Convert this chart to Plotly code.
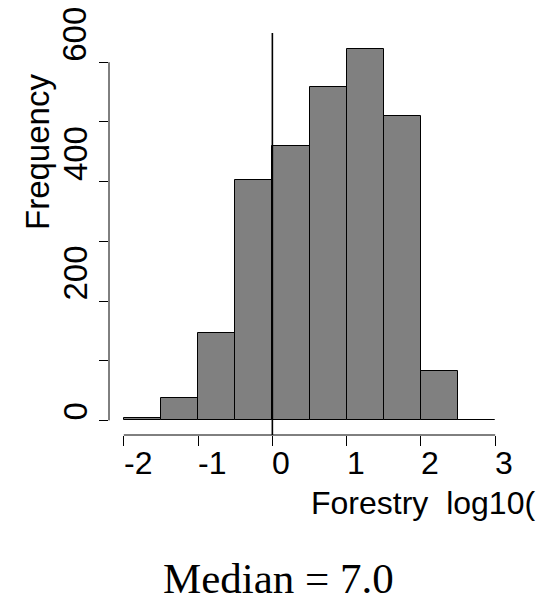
import plotly.graph_objects as go

# ---- data ----
bin_edges = [-2.0, -1.5, -1.0, -0.5, 0.0, 0.5, 1.0, 1.5, 2.0, 2.5, 3.0]
counts = [4, 37, 147, 402, 460, 558, 623, 510, 82, 1]
x_ticks = [-2, -1, 0, 1, 2, 3]
x_tick_labels = ["-2", "-1", "0", "1", "2", "3"]
y_ticks = [0, 100, 200, 300, 400, 500, 600]
y_label_vals = [0, 200, 400, 600]
y_label_text = ["0", "200", "400", "600"]
x_title = "Forestry  log10("
y_title = "Frequency"
caption = "Median = 7.0"

centers = [(a + b) / 2 for a, b in zip(bin_edges[:-1], bin_edges[1:])]
widths = [b - a for a, b in zip(bin_edges[:-1], bin_edges[1:])]

W, H = 542, 603
L, R, T, B = 109, 32, 33, 168
PW, PH = W - L - R, H - T - B


def px(x):
    return (x - L) / PW


def py(y):
    return (H - B - y) / PH


SANS = "Liberation Sans, Arial, sans-serif"

fig = go.Figure()
fig.add_trace(go.Bar(
    x=centers, y=counts, width=widths,
    marker=dict(color="#808080", line=dict(color="black", width=1)),
    showlegend=False, hoverinfo="skip",
))

annotations = []
for v, t in zip(x_ticks, x_tick_labels):
    annotations.append(dict(
        x=v, xref="x", y=py(463), yref="paper", text=t, showarrow=False,
        xanchor="left", yanchor="middle", xshift=-2,
        font=dict(family=SANS, size=32, color="black"),
    ))
for v, t in zip(y_label_vals, y_label_text):
    annotations.append(dict(
        x=px(75), xref="paper", y=v, yref="y", text=t, showarrow=False,
        xanchor="center", yanchor="bottom", textangle=-90, yshift=-2,
        font=dict(family=SANS, size=33, color="black"),
    ))
annotations.append(dict(
    x=px(37), xref="paper", y=py(232), yref="paper", text=y_title,
    showarrow=False, xanchor="center", yanchor="bottom", textangle=-90,
    font=dict(family=SANS, size=33, color="black"),
))
annotations.append(dict(
    x=px(309), xref="paper", y=py(503), yref="paper", text=x_title,
    showarrow=False, xanchor="left", yanchor="middle",
    font=dict(family=SANS, size=32, color="black"),
))
annotations.append(dict(
    x=px(278), xref="paper", y=py(578), yref="paper", text=caption,
    showarrow=False, xanchor="center", yanchor="middle",
    font=dict(family="Liberation Serif, DejaVu Serif, serif", size=43, color="black"),
))

shapes = [
    # y axis line (0..600)
    dict(type="line", xref="paper", x0=0, x1=0, yref="y", y0=0, y1=600,
         line=dict(color="black", width=1)),
    # x axis line (-2..3)
    dict(type="line", xref="x", x0=-2, x1=3, yref="paper", y0=0, y1=0,
         line=dict(color="black", width=1)),
    # vertical reference line at 0
    dict(type="line", xref="x", x0=0, x1=0, yref="paper", y0=0, y1=1,
         line=dict(color="black", width=1.6)),
]

fig.update_layout(
    width=W, height=H,
    margin=dict(l=L, r=R, t=T, b=B, pad=0),
    paper_bgcolor="white", plot_bgcolor="white",
    bargap=0,
    xaxis=dict(range=[-2.2, 3.2], tickvals=x_ticks, showticklabels=False,
               ticks="outside", ticklen=10, tickcolor="black", tickwidth=1,
               showgrid=False, zeroline=False, showline=False, fixedrange=True),
    yaxis=dict(range=[-24.5, 649], tickvals=y_ticks, showticklabels=False,
               ticks="outside", ticklen=9, tickcolor="black", tickwidth=1,
               showgrid=False, zeroline=False, showline=False, fixedrange=True),
    annotations=annotations,
    shapes=shapes,
)

fig.write_html(
    "out.html",
    config={"displayModeBar": False},
    post_script="document.body.style.margin='0';document.body.style.overflow='hidden';",
)
